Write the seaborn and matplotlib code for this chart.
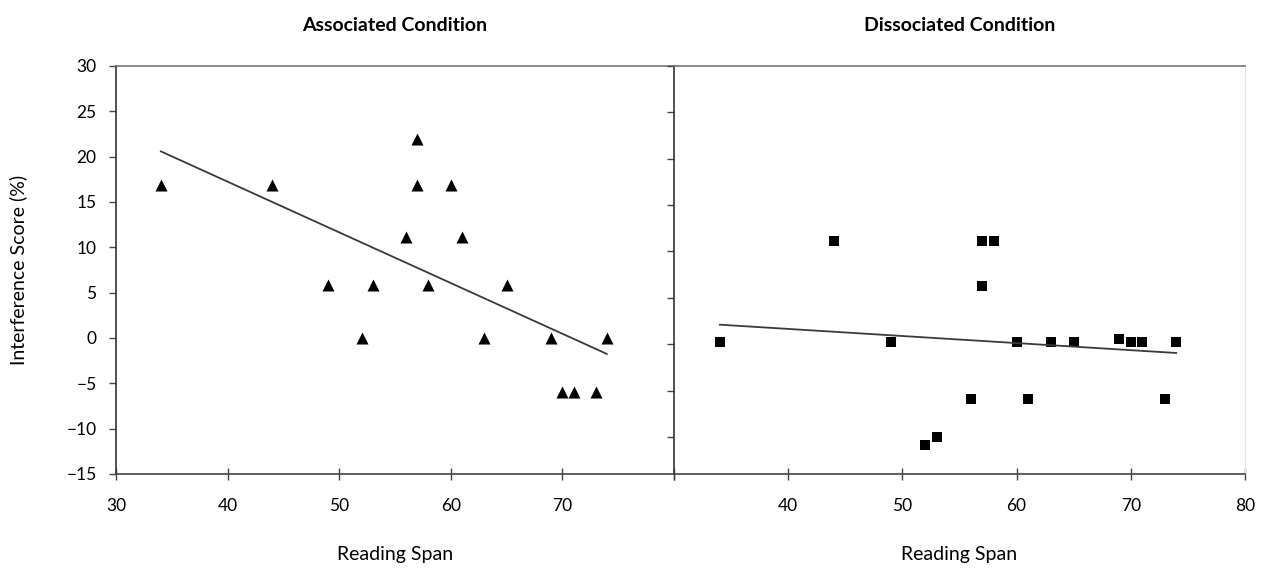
import matplotlib
matplotlib.use("Agg")
import matplotlib.pyplot as plt
import seaborn as sns
import pandas as pd

# Reading span scores (same participants in both conditions)
reading_span = [34, 44, 49, 52, 53, 56, 57, 57, 58, 60, 61, 63, 65, 69, 70, 71, 73, 74]

# Interference scores (%) per condition
associated = [16.9, 16.9, 5.8, 0, 5.8, 11.1, 21.9, 16.9, 5.8, 16.9, 11.1, 0, 5.8, 0, -6.0, -6.0, -6.0, 0]
dissociated = [0.2, 11.1, 0.2, -10.9, -10.0, -5.9, 11.1, 6.3, 11.1, 0.2, -5.9, 0.2, 0.2, 0.6, 0.2, 0.2, -5.9, 0.2]

x_ticks = [30, 40, 50, 60, 70, 80]
y_ticks = [-15, -10, -5, 0, 5, 10, 15, 20, 25, 30]

df = pd.DataFrame({"span": reading_span, "assoc": associated, "dissoc": dissociated})

sns.set_style("white", {"xtick.bottom": True, "ytick.left": True,
                        "text.color": "black", "axes.labelcolor": "black",
                        "xtick.color": "#444", "ytick.color": "#444"})
plt.rcParams["font.family"] = ["Lato", "DejaVu Sans"]

fig = plt.figure(figsize=(12.67, 5.69), dpi=100)
ax1 = fig.add_axes([116 / 1267, 95 / 569, 558 / 1267, 408 / 569])
ax2 = fig.add_axes([674 / 1267, 95 / 569, 571 / 1267, 408 / 569])

line_kws = {"color": "#3a3a3a", "lw": 1.3}

# Associated condition
sns.regplot(data=df, x="span", y="assoc", ax=ax1, ci=None, marker="^",
            scatter_kws={"color": "black", "s": 75, "linewidths": 0, "alpha": 1},
            line_kws=line_kws)
ax1.set_xlim(30, 80)
ax1.set_ylim(-15, 30)
ax1.set_xticks(x_ticks)
ax1.set_xticklabels([str(t) if t != 80 else "" for t in x_ticks])
ax1.set_yticks(y_ticks)
ax1.set_yticklabels([str(t).replace("-", "\u2212") for t in y_ticks])
ax1.set_xlabel("Reading Span", fontsize=14)
ax1.set_ylabel("Interference Score (%)", fontsize=14)
ax1.yaxis.set_label_coords(-0.16, 0.5)
ax1.set_title("Associated Condition", fontsize=14, fontweight="bold", pad=25)

# Dissociated condition
sns.regplot(data=df, x="span", y="dissoc", ax=ax2, ci=None, marker="s",
            scatter_kws={"color": "black", "s": 50, "linewidths": 0, "alpha": 1},
            line_kws=line_kws)
ax2.set_xlim(30, 80)
ax2.set_ylim(-14, 30)
ax2.set_xticks(x_ticks)
ax2.set_xticklabels([str(t) if t != 30 else "" for t in x_ticks])
ax2.set_yticks(y_ticks[1:])
ax2.set_yticklabels([])
ax2.set_xlabel("Reading Span", fontsize=14)
ax2.set_ylabel("")
ax2.set_title("Dissociated Condition", fontsize=14, fontweight="bold", pad=25)

for ax in (ax1, ax2):
    ax.tick_params(axis="both", direction="out", length=5, width=1, color="#444",
                   labelsize=12.5, labelcolor="black", pad=9, left=True, bottom=True)
    ax.tick_params(axis="x", direction="inout", length=8, pad=13)
    ax.xaxis.set_label_coords(0.5, -0.176)
    ax.spines["left"].set_color("#333")
    ax.spines["left"].set_linewidth(1.2)
    ax.spines["bottom"].set_color("#444")
    ax.spines["bottom"].set_linewidth(1.2)
    ax.spines["top"].set_color("#777")
    ax.spines["top"].set_linewidth(1.2)
ax1.spines["right"].set_visible(False)
ax2.spines["right"].set_color("#e6e6e6")

fig.savefig("out.png", dpi=100)
